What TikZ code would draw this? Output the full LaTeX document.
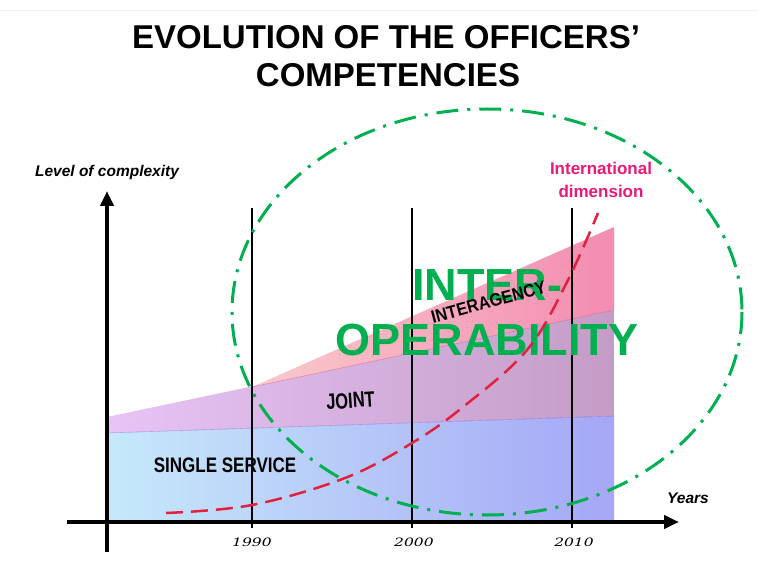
\documentclass[tikz,border=0pt]{standalone}
\usepackage{fontspec}
\setmainfont{Liberation Sans}
\newfontfamily\narrowfont[FakeStretch=0.75]{Liberation Sans}
\newfontfamily\singlefont[FakeStretch=0.81]{Liberation Sans}
\newfontfamily\midfont[FakeStretch=0.9]{Liberation Sans}
\newfontfamily\yearfont[FakeStretch=1.35]{DejaVu Serif}
\usetikzlibrary{arrows.meta}
\definecolor{ogreen}{HTML}{00B050}
\definecolor{intlpink}{HTML}{E8197A}
\definecolor{redline}{HTML}{E0223F}
\definecolor{blueL}{HTML}{C6E9FA}
\definecolor{blueR}{HTML}{A5A7F6}
\definecolor{jointL}{HTML}{E7C4F6}
\definecolor{jointR}{HTML}{C49CC6}
\definecolor{pinkL}{HTML}{F9CACB}
\definecolor{pinkR}{HTML}{F48CB2}
\tikzset{
  titletext/.style={font=\bfseries\fontsize{33}{36}\selectfont, anchor=base, inner sep=0pt},
  axislabel/.style={font=\bfseries\itshape\fontsize{15.5}{17}\selectfont, inner sep=0pt},
  yearlabel/.style={font=\yearfont\itshape\fontsize{11.5}{14}\selectfont, anchor=base, inner sep=0pt},
  bandlabel/.style={inner sep=0pt, anchor=base},
  bigtext/.style={font=\bfseries\fontsize{45}{48}\selectfont, text=ogreen, anchor=base, inner sep=0pt},
  intltext/.style={font=\bfseries\fontsize{17}{19}\selectfont, text=intlpink, anchor=base, inner sep=0pt},
  axis/.style={line width=4pt, -{Triangle[length=15pt,width=13pt]}},
  yearline/.style={line width=1.5pt, black},
  ellipsestyle/.style={ogreen, line width=3pt, dash pattern=on 22pt off 9pt on 3pt off 9pt},
  redcurve/.style={redline, line width=2.5pt, dash pattern=on 17pt off 8pt},
}
\begin{document}
\begin{tikzpicture}[x=1pt,y=-1pt]
\useasboundingbox (0,0) rectangle (758,572);
\fill[white] (0,0) rectangle (758,572);
\draw[gray!12, line width=0.8pt] (0,10) -- (758,10);

% title
\node[titletext] (t1) at (386,49) {EVOLUTION OF THE OFFICERS’};
\node[titletext] (t2) at (388,87) {COMPETENCIES};

% bands
\shade[left color=blueL, right color=blueR] (107,433) -- (614,416) -- (614,522) -- (107,522) -- cycle;
\shade[left color=jointL, right color=jointR] (107,417) -- (614,310) -- (614,416) -- (107,433) -- cycle;
\shade[left color=pinkL, right color=pinkR] (252,387) -- (614,227) -- (614,310) -- cycle;
\draw[magenta!50!violet, opacity=0.35, line width=0.6pt] (252,387) -- (614,310);
\draw[blue!60!violet, opacity=0.25, line width=0.6pt] (107,433) -- (614,416);

% year lines
\foreach \x/\n in {252/a,412/b,572/c}{
  \coordinate (top\n) at (\x,208);
  \coordinate (bot\n) at (\x,528);
  \draw[yearline] (top\n) -- (bot\n);
}

% axes
\coordinate (yb) at (107,552);
\coordinate (yt) at (107,191);
\coordinate (xl) at (67,522);
\coordinate (xr) at (679,522);
\draw[axis] (yb) -- (yt);
\draw[axis] (xl) -- (xr);

% labels
\node[axislabel] (ylab) at (107,172) {Level of complexity};
\node[axislabel, anchor=base west] (xlab) at (667,503) {Years};
\node[yearlabel] (y1990) at (252,546) {1990};
\node[yearlabel] (y2000) at (414,546) {2000};
\node[yearlabel] (y2010) at (574,546) {2010};

\node[bandlabel, font=\singlefont\bfseries\fontsize{21}{23}\selectfont] (single) at (225,472) {SINGLE SERVICE};
\node[bandlabel, font=\narrowfont\bfseries\fontsize{22}{24}\selectfont, rotate=4] (joint) at (351,408) {JOINT};

% big green text
\node[bigtext] (interop1) at (487,300) {INTER-};
\node[bigtext] (interop2) at (487,355) {OPERABILITY};

\node[bandlabel, font=\midfont\bfseries\fontsize{18}{20}\selectfont, rotate=15] (inter) at (490,308) {INTERAGENCY};

% international dimension
\node[intltext] (intl1) at (601,175) {International};
\node[intltext] (intl2) at (601,198) {dimension};
\draw[redcurve] plot[smooth, tension=0.6] coordinates {(166,513) (252,505) (345,478) (412,443) (463,407) (527,350) (567,282) (598,213)};

% ellipse
\coordinate (ec) at (487,312);
\draw[ellipsestyle] (ec) ellipse [x radius=255, y radius=203];
\end{tikzpicture}
\end{document}
